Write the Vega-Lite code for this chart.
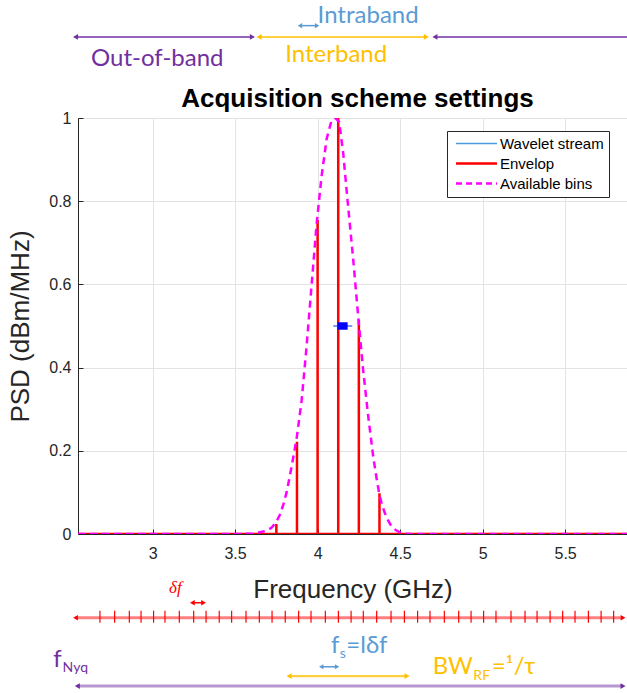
{
  "$schema": "https://vega.github.io/schema/vega-lite/v6.json",
  "autosize": {"type": "none"},
  "padding": {"left": 78, "top": 118, "right": 0, "bottom": 159},
  "width": 549,
  "height": 416,
  "background": "white",
  "config": {
    "view": {"stroke": "#4d4d4d", "strokeWidth": 1},
    "font": "Liberation Sans"
  },
  "title": {"text": "Acquisition scheme settings", "fontSize": 26, "font": "Liberation Sans", "fontWeight": "bold", "color": "#000000", "anchor": "middle", "offset": 13, "dx": 5, "dy": 121},
  "datasets": {
    "env": [
      {"i": 0, "x": 2.548, "y": 0, "series": "Envelop"},
      {"i": 1, "x": 3.75, "y": 0, "series": "Envelop"},
      {"i": 2, "x": 3.75, "y": 0.024, "series": "Envelop"},
      {"i": 3, "x": 3.75, "y": 0, "series": "Envelop"},
      {"i": 4, "x": 3.875, "y": 0, "series": "Envelop"},
      {"i": 5, "x": 3.875, "y": 0.222, "series": "Envelop"},
      {"i": 6, "x": 3.875, "y": 0, "series": "Envelop"},
      {"i": 7, "x": 4.0, "y": 0, "series": "Envelop"},
      {"i": 8, "x": 4.0, "y": 0.755, "series": "Envelop"},
      {"i": 9, "x": 4.0, "y": 0, "series": "Envelop"},
      {"i": 10, "x": 4.125, "y": 0, "series": "Envelop"},
      {"i": 11, "x": 4.125, "y": 1.0, "series": "Envelop"},
      {"i": 12, "x": 4.125, "y": 0, "series": "Envelop"},
      {"i": 13, "x": 4.25, "y": 0, "series": "Envelop"},
      {"i": 14, "x": 4.25, "y": 0.515, "series": "Envelop"},
      {"i": 15, "x": 4.25, "y": 0, "series": "Envelop"},
      {"i": 16, "x": 4.375, "y": 0, "series": "Envelop"},
      {"i": 17, "x": 4.375, "y": 0.098, "series": "Envelop"},
      {"i": 18, "x": 4.375, "y": 0, "series": "Envelop"},
      {"i": 19, "x": 5.875, "y": 0, "series": "Envelop"}
    ],
    "bins": [
      {"x": 2.548, "y": 0, "series": "Available bins"},
      {"x": 3.55, "y": 0, "series": "Available bins"},
      {"x": 3.608, "y": 0.002, "series": "Available bins"},
      {"x": 3.65, "y": 0.004, "series": "Available bins"},
      {"x": 3.691, "y": 0.008, "series": "Available bins"},
      {"x": 3.72, "y": 0.015, "series": "Available bins"},
      {"x": 3.747, "y": 0.027, "series": "Available bins"},
      {"x": 3.77, "y": 0.045, "series": "Available bins"},
      {"x": 3.792, "y": 0.07, "series": "Available bins"},
      {"x": 3.812, "y": 0.1, "series": "Available bins"},
      {"x": 3.832, "y": 0.14, "series": "Available bins"},
      {"x": 3.853, "y": 0.185, "series": "Available bins"},
      {"x": 3.873, "y": 0.23, "series": "Available bins"},
      {"x": 3.903, "y": 0.32, "series": "Available bins"},
      {"x": 3.933, "y": 0.45, "series": "Available bins"},
      {"x": 3.964, "y": 0.6, "series": "Available bins"},
      {"x": 3.994, "y": 0.745, "series": "Available bins"},
      {"x": 4.024, "y": 0.86, "series": "Available bins"},
      {"x": 4.055, "y": 0.95, "series": "Available bins"},
      {"x": 4.085, "y": 0.995, "series": "Available bins"},
      {"x": 4.108, "y": 1.0, "series": "Available bins"},
      {"x": 4.131, "y": 0.99, "series": "Available bins"},
      {"x": 4.155, "y": 0.916, "series": "Available bins"},
      {"x": 4.185, "y": 0.787, "series": "Available bins"},
      {"x": 4.216, "y": 0.659, "series": "Available bins"},
      {"x": 4.246, "y": 0.523, "series": "Available bins"},
      {"x": 4.276, "y": 0.394, "series": "Available bins"},
      {"x": 4.307, "y": 0.282, "series": "Available bins"},
      {"x": 4.337, "y": 0.186, "series": "Available bins"},
      {"x": 4.355, "y": 0.14, "series": "Available bins"},
      {"x": 4.372, "y": 0.1, "series": "Available bins"},
      {"x": 4.39, "y": 0.07, "series": "Available bins"},
      {"x": 4.408, "y": 0.05, "series": "Available bins"},
      {"x": 4.428, "y": 0.032, "series": "Available bins"},
      {"x": 4.448, "y": 0.018, "series": "Available bins"},
      {"x": 4.475, "y": 0.009, "series": "Available bins"},
      {"x": 4.499, "y": 0.004, "series": "Available bins"},
      {"x": 4.53, "y": 0.001, "series": "Available bins"},
      {"x": 4.56, "y": 0, "series": "Available bins"},
      {"x": 5.875, "y": 0, "series": "Available bins"}
    ],
    "wave": [
      {"x": 4.095, "y": 0.5},
      {"x": 4.21, "y": 0.5}
    ],
    "wrect": [
      {"x": 4.12, "x2": 4.182, "y": 0.491, "y2": 0.509}
    ],
    "ann": [
      {"part": "p1", "x": 2.533, "x2": 3.605, "y": 1.1949},
      {"part": "p1", "x": 4.711, "x2": 5.95, "y": 1.1949},
      {"part": "y1", "x": 3.645, "x2": 4.659, "y": 1.1949},
      {"part": "b1", "x": 3.893, "x2": 3.997, "y": 1.222},
      {"part": "r1", "x": 3.241, "x2": 3.309, "y": -0.1653},
      {"part": "r2", "x": 2.533, "x2": 5.851, "y": -0.2013},
      {"part": "b1", "x": 4.022, "x2": 4.118, "y": -0.3192},
      {"part": "y2", "x": 3.827, "x2": 4.542, "y": -0.3416},
      {"part": "p2", "x": 2.544, "x2": 5.851, "y": -0.3656}
    ],
    "ticks": [
      {"x": 2.681, "y": -0.1844, "y2": -0.2133}, {"x": 2.770, "y": -0.1844, "y2": -0.2133},
      {"x": 2.859, "y": -0.1844, "y2": -0.2133}, {"x": 2.930, "y": -0.1844, "y2": -0.2133},
      {"x": 3.006, "y": -0.1844, "y2": -0.2133}, {"x": 3.075, "y": -0.1844, "y2": -0.2133},
      {"x": 3.162, "y": -0.1844, "y2": -0.2133}, {"x": 3.249, "y": -0.1844, "y2": -0.2133},
      {"x": 3.324, "y": -0.1844, "y2": -0.2133}, {"x": 3.404, "y": -0.1844, "y2": -0.2133},
      {"x": 3.479, "y": -0.1844, "y2": -0.2133}, {"x": 3.566, "y": -0.1844, "y2": -0.2133},
      {"x": 3.647, "y": -0.1844, "y2": -0.2133}, {"x": 3.724, "y": -0.1844, "y2": -0.2133},
      {"x": 3.804, "y": -0.1844, "y2": -0.2133}, {"x": 3.885, "y": -0.1844, "y2": -0.2133},
      {"x": 3.960, "y": -0.1844, "y2": -0.2133}, {"x": 4.047, "y": -0.1844, "y2": -0.2133},
      {"x": 4.126, "y": -0.1844, "y2": -0.2133}, {"x": 4.203, "y": -0.1844, "y2": -0.2133},
      {"x": 4.277, "y": -0.1844, "y2": -0.2133}, {"x": 4.358, "y": -0.1844, "y2": -0.2133},
      {"x": 4.445, "y": -0.1844, "y2": -0.2133}, {"x": 4.526, "y": -0.1844, "y2": -0.2133},
      {"x": 4.606, "y": -0.1844, "y2": -0.2133}, {"x": 4.681, "y": -0.1844, "y2": -0.2133},
      {"x": 4.768, "y": -0.1844, "y2": -0.2133}, {"x": 4.855, "y": -0.1844, "y2": -0.2133},
      {"x": 4.930, "y": -0.1844, "y2": -0.2133}, {"x": 5.006, "y": -0.1844, "y2": -0.2133},
      {"x": 5.081, "y": -0.1844, "y2": -0.2133}, {"x": 5.172, "y": -0.1844, "y2": -0.2133},
      {"x": 5.257, "y": -0.1844, "y2": -0.2133}, {"x": 5.330, "y": -0.1844, "y2": -0.2133},
      {"x": 5.409, "y": -0.1844, "y2": -0.2133}, {"x": 5.485, "y": -0.1844, "y2": -0.2133},
      {"x": 5.560, "y": -0.1844, "y2": -0.2133}, {"x": 5.641, "y": -0.1844, "y2": -0.2133},
      {"x": 5.718, "y": -0.1844, "y2": -0.2133}, {"x": 5.794, "y": -0.1844, "y2": -0.2133}
    ],
    "txt": [
      {"part": "purple", "label": "Out-of-band", "role": "main", "x": 2.627, "y": 1.1241},
      {"part": "yellow", "label": "Interband", "role": "main", "x": 3.804, "y": 1.1337},
      {"part": "blue", "label": "Intraband", "role": "main", "x": 4.0, "y": 1.229},
      {"part": "blue", "label": "f", "role": "main", "x": 4.0813, "y": -0.287},
      {"part": "blue", "label": "s", "role": "sub", "x": 4.1345, "y": -0.299},
      {"part": "blue", "label": "=lδf", "role": "main", "x": 4.174, "y": -0.287},
      {"part": "purple", "label": "f", "role": "main", "x": 2.3983, "y": -0.3192},
      {"part": "purple", "label": "Nyq", "role": "sub", "x": 2.4547, "y": -0.3312},
      {"part": "yellow", "label": "BW", "role": "main", "x": 4.6971, "y": -0.3368},
      {"part": "yellow", "label": "RF", "role": "sub", "x": 4.944, "y": -0.3512},
      {"part": "yellow", "label": "=¹/τ", "role": "main", "x": 5.055, "y": -0.3368}
    ],
    "dftxt": [
      {"label": "δf", "x": 3.10, "y": -0.1419}
    ]
  },
  "encoding": {
    "x": {
      "field": "x", "type": "quantitative", "title": "Frequency (GHz)",
      "scale": {"domain": [2.548, 5.875], "nice": false, "zero": false},
      "axis": {
        "values": [3, 3.5, 4, 4.5, 5, 5.5], "format": "~g",
        "labelFontSize": 16, "labelFont": "Liberation Sans", "labelColor": "#262626",
        "tickSize": -5, "tickColor": "#262626", "labelPadding": 16,
        "domainColor": "#262626", "grid": true, "gridColor": "#e3e3e3",
        "titleFontSize": 26, "titleFont": "Liberation Sans", "titleFontWeight": "normal",
        "titleColor": "#262626", "titlePadding": 15
      }
    },
    "y": {
      "field": "y", "type": "quantitative", "title": "PSD (dBm/MHz)",
      "scale": {"domain": [0, 1], "nice": false},
      "axis": {
        "values": [0, 0.2, 0.4, 0.6, 0.8, 1], "format": "~g",
        "labelFontSize": 16, "labelFont": "Liberation Sans", "labelColor": "#262626",
        "tickSize": -5, "tickColor": "#262626", "labelPadding": 12,
        "domainColor": "#262626", "grid": true, "gridColor": "#e3e3e3",
        "titleFontSize": 26, "titleFont": "Liberation Sans", "titleFontWeight": "normal",
        "titleColor": "#262626", "titlePadding": 15
      }
    }
  },
  "layer": [
    {
      "data": {"name": "env"},
      "mark": {"type": "line", "strokeWidth": 2.5, "strokeJoin": "miter", "clip": true},
      "encoding": {
        "order": {"field": "i", "type": "quantitative"},
        "color": {
          "field": "series", "type": "nominal",
          "scale": {"domain": ["Wavelet stream", "Envelop", "Available bins"], "range": ["#4a9be0", "#ff0000", "#ff00ff"]},
          "legend": {
            "title": null, "orient": "none", "legendX": 369, "legendY": 13,
            "symbolType": "M-0.583,0H6.25", "symbolSize": 144,
            "rowPadding": 4, "padding": 5, "symbolOffset": 0, "labelOffset": 33,
            "labelFontSize": 15, "labelFont": "Liberation Sans", "labelColor": "#000000",
            "strokeColor": "#262626", "fillColor": "white", "cornerRadius": 0,
            "encode": {
              "symbols": {
                "update": {
                  "strokeDash": {"signal": "datum.value === 'Available bins' ? [6, 4] : [1, 0]"},
                  "strokeWidth": {"signal": "datum.value === 'Wavelet stream' ? 1.5 : 2.5"}
                }
              }
            }
          }
        }
      }
    },
    {
      "data": {"name": "bins"},
      "mark": {"type": "line", "strokeWidth": 2.5, "strokeDash": [7, 5], "clip": true},
      "encoding": {
        "color": {"field": "series", "type": "nominal"}
      }
    },
    {
      "data": {"name": "wave"},
      "mark": {"type": "line", "strokeWidth": 1.2, "color": "#2a55f0"},
      "encoding": {}
    },
    {
      "data": {"name": "wrect"},
      "mark": {"type": "rect", "color": "#0000ff"},
      "encoding": {
        "x2": {"field": "x2"},
        "y2": {"field": "y2"}
      }
    },
    {
      "data": {"name": "ann"},
      "transform": [{"filter": {"field": "part", "equal": "p1"}}],
      "mark": {"type": "rule", "color": "#7030A0", "strokeWidth": 1.5},
      "encoding": {"x2": {"field": "x2"}}
    },
    {
      "data": {"name": "ann"},
      "transform": [{"filter": {"field": "part", "equal": "p2"}}],
      "mark": {"type": "rule", "color": "#7030A0", "strokeWidth": 3, "opacity": 0.5},
      "encoding": {"x2": {"field": "x2"}}
    },
    {
      "data": {"name": "ann"},
      "transform": [{"filter": {"field": "part", "equal": "y1"}}],
      "mark": {"type": "rule", "color": "#FFC000", "strokeWidth": 1.5},
      "encoding": {"x2": {"field": "x2"}}
    },
    {
      "data": {"name": "ann"},
      "transform": [{"filter": {"field": "part", "equal": "y2"}}],
      "mark": {"type": "rule", "color": "#FFC000", "strokeWidth": 2.2, "opacity": 0.75},
      "encoding": {"x2": {"field": "x2"}}
    },
    {
      "data": {"name": "ann"},
      "transform": [{"filter": {"field": "part", "equal": "b1"}}],
      "mark": {"type": "rule", "color": "#5B9BD5", "strokeWidth": 1.5},
      "encoding": {"x2": {"field": "x2"}}
    },
    {
      "data": {"name": "ann"},
      "transform": [{"filter": {"field": "part", "equal": "r1"}}],
      "mark": {"type": "rule", "color": "#ff0000", "strokeWidth": 1.5},
      "encoding": {"x2": {"field": "x2"}}
    },
    {
      "data": {"name": "ann"},
      "transform": [{"filter": {"field": "part", "equal": "r2"}}],
      "mark": {"type": "rule", "color": "#ff0000", "strokeWidth": 3, "opacity": 0.5},
      "encoding": {"x2": {"field": "x2"}}
    },
    {
      "data": {"name": "ticks"},
      "mark": {"type": "rule", "color": "#ff0000", "strokeWidth": 1.2},
      "encoding": {
        "y2": {"field": "y2"}
      }
    },
    {
      "data": {"name": "ann"},
      "transform": [
        {"filter": {"field": "part", "oneOf": ["p1", "p2"]}},
        {"fold": ["x", "x2"], "as": ["end", "hx"]}
      ],
      "mark": {"type": "point", "filled": true, "opacity": 1, "size": 34, "color": "#7030A0"},
      "encoding": {
        "x": {"field": "hx", "type": "quantitative", "title": "Frequency (GHz)"},
        "shape": {"field": "end", "type": "nominal", "scale": {"domain": ["x", "x2"], "range": ["triangle-left", "triangle-right"]}, "legend": null}
      }
    },
    {
      "data": {"name": "ann"},
      "transform": [
        {"filter": {"field": "part", "oneOf": ["y1", "y2"]}},
        {"fold": ["x", "x2"], "as": ["end", "hx"]}
      ],
      "mark": {"type": "point", "filled": true, "opacity": 1, "size": 34, "color": "#FFC000"},
      "encoding": {
        "x": {"field": "hx", "type": "quantitative", "title": "Frequency (GHz)"},
        "shape": {"field": "end", "type": "nominal", "legend": null}
      }
    },
    {
      "data": {"name": "ann"},
      "transform": [
        {"filter": {"field": "part", "equal": "b1"}},
        {"fold": ["x", "x2"], "as": ["end", "hx"]}
      ],
      "mark": {"type": "point", "filled": true, "opacity": 1, "size": 26, "color": "#5B9BD5"},
      "encoding": {
        "x": {"field": "hx", "type": "quantitative", "title": "Frequency (GHz)"},
        "shape": {"field": "end", "type": "nominal", "legend": null}
      }
    },
    {
      "data": {"name": "ann"},
      "transform": [
        {"filter": {"field": "part", "oneOf": ["r1", "r2"]}},
        {"fold": ["x", "x2"], "as": ["end", "hx"]}
      ],
      "mark": {"type": "point", "filled": true, "opacity": 1, "size": 30, "color": "#ff0000"},
      "encoding": {
        "x": {"field": "hx", "type": "quantitative", "title": "Frequency (GHz)"},
        "shape": {"field": "end", "type": "nominal", "legend": null}
      }
    },
    {
      "data": {"name": "txt"},
      "transform": [{"filter": {"field": "part", "equal": "purple"}}],
      "mark": {"type": "text", "align": "left", "baseline": "alphabetic", "font": "Lato", "color": "#7030A0"},
      "encoding": {
        "text": {"field": "label"},
        "size": {"field": "role", "type": "ordinal", "scale": {"domain": ["main", "sub"], "range": [24, 14]}, "legend": null}
      }
    },
    {
      "data": {"name": "txt"},
      "transform": [{"filter": {"field": "part", "equal": "yellow"}}],
      "mark": {"type": "text", "align": "left", "baseline": "alphabetic", "font": "Lato", "color": "#FFC000"},
      "encoding": {
        "text": {"field": "label"},
        "size": {"field": "role", "type": "ordinal", "legend": null}
      }
    },
    {
      "data": {"name": "txt"},
      "transform": [{"filter": {"field": "part", "equal": "blue"}}],
      "mark": {"type": "text", "align": "left", "baseline": "alphabetic", "font": "Lato", "color": "#5B9BD5"},
      "encoding": {
        "text": {"field": "label"},
        "size": {"field": "role", "type": "ordinal", "legend": null}
      }
    },
    {
      "data": {"name": "dftxt"},
      "mark": {"type": "text", "align": "left", "baseline": "alphabetic", "font": "Liberation Serif", "fontStyle": "italic", "fontSize": 17, "color": "#ff0000"},
      "encoding": {
        "text": {"field": "label"}
      }
    }
  ]
}
